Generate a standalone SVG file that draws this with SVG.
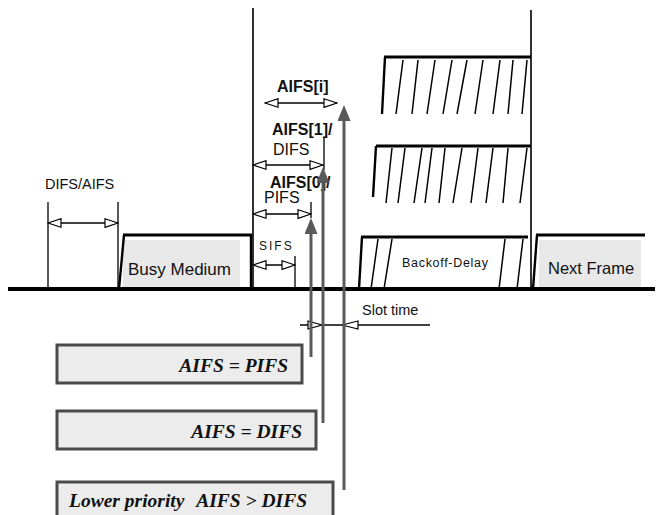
<svg xmlns="http://www.w3.org/2000/svg" width="657" height="515" viewBox="0 0 657 515">
<style>
.sans{font-family:"Liberation Sans",Arial,sans-serif;fill:#111}
.lbl{font-size:16px}
.b{font-weight:bold}
.thin{stroke:#000;stroke-width:1.3;fill:none}
.dim{stroke:#000;stroke-width:1.3;fill:none;marker-start:url(#hollow);marker-end:url(#hollow)}
.top{stroke:#000;stroke-width:3.2;fill:none}
.edge{stroke:#000;stroke-width:2.4;fill:none}
.hatch{stroke:#000;stroke-width:1.5;fill:none}
.garrow{stroke:#5a5a5a;stroke-width:3;fill:none;marker-end:url(#gh)}
.box{fill:#ececec;stroke:#4a4a4a;stroke-width:3}
.boxt{font-family:"Liberation Serif","Times New Roman",serif;font-style:italic;font-weight:bold;font-size:19.5px;fill:#111}
</style>
<defs>
<marker id="hollow" markerUnits="userSpaceOnUse" markerWidth="15" markerHeight="11" refX="14" refY="5.5" orient="auto-start-reverse" viewBox="0 0 15 11">
<path d="M1,1.2 L14,5.5 L1,9.8 Z" fill="#fff" stroke="#000" stroke-width="1.2"/>
</marker>
<marker id="gh" markerUnits="userSpaceOnUse" markerWidth="16" markerHeight="13" refX="0" refY="6.5" orient="auto" viewBox="0 0 16 13">
<path d="M0,0 L16,6.5 L0,13 Z" fill="#5a5a5a"/>
</marker>
</defs>
<rect width="657" height="515" fill="#fff"/>

<g id="frame">
<line x1="253" y1="8" x2="253" y2="289" stroke="#333" stroke-width="2"/>
<line x1="531" y1="10" x2="531" y2="289" stroke="#333" stroke-width="2"/>
<line x1="8" y1="289" x2="655" y2="289" stroke="#000" stroke-width="4"/>
</g>

<g id="busy-medium">
<rect x="123" y="240" width="117" height="47" fill="#e8e8e8"/>
<line x1="123" y1="235" x2="252" y2="235" class="top"/>
<path d="M119,289 L124,235" class="edge"/>
<line x1="251" y1="235" x2="251" y2="289" class="edge"/>
<text x="128" y="275" class="sans" font-size="17">Busy Medium</text>
</g>

<g id="backoff-1">
<line x1="384" y1="57" x2="531" y2="57" class="top"/>
<path d="M385,57 L382,114" class="edge"/>
<path d="M403,60 L396,114 M418,60 L412,114 M435,60 L427,114 M452,60 L443,114 M467,60 L457,114 M483,60 L475,114 M500,60 L493,114 M513,60 L508,114 M527,60 L522,114" class="hatch"/>
</g>

<g id="backoff-2">
<line x1="376" y1="146" x2="531" y2="146" class="top"/>
<path d="M376,146 L373,197" class="edge"/>
<path d="M392,148 L386,203 M405,148 L398,203 M422,148 L414,203 M432,148 L425,203 M445,148 L439,203 M462,148 L453,203 M478,148 L471,203 M493,148 L486,203 M508,148 L503,203 M527,148 L520,203" class="hatch"/>
</g>

<g id="backoff-delay">
<line x1="361" y1="237" x2="528" y2="237" class="top"/>
<path d="M362,237 L359,289" class="edge"/>
<path d="M378,239 L371,289 M392,239 L384,289 M505,239 L499,289 M523,239 L517,289" class="hatch"/>
<text x="402" y="267" class="sans" font-size="12.5" letter-spacing="0.7">Backoff-Delay</text>
</g>

<g id="next-frame">
<rect x="539" y="240" width="102" height="47" fill="#e8e8e8"/>
<line x1="536" y1="235" x2="645" y2="235" class="top"/>
<path d="M533,289 L537,235" class="edge"/>
<text x="548" y="274" class="sans" font-size="16.5">Next Frame</text>
</g>

<g id="labels">
<text x="45" y="189" class="sans" font-size="14.5">DIFS/AIFS</text>
<text x="277" y="92" class="sans lbl b">AIFS[i]</text>
<text x="272" y="135" class="sans lbl b">AIFS[1]/</text>
<text x="273" y="155" class="sans lbl">DIFS</text>
<text x="270" y="188" class="sans lbl b">AIFS[0]/</text>
<text x="264" y="203" class="sans lbl">PIFS</text>
<text x="259" y="250" class="sans" font-size="12" letter-spacing="2">SIFS</text>
<text x="362" y="315" class="sans" font-size="14.5">Slot time</text>
</g>

<g id="box-pifs">
<rect x="57" y="345" width="245" height="38" class="box"/>
<text x="288" y="372" text-anchor="end" class="boxt">AIFS = PIFS</text>
</g>
<g id="box-difs">
<rect x="57" y="411" width="259" height="38" class="box"/>
<text x="302" y="438" text-anchor="end" class="boxt">AIFS = DIFS</text>
</g>
<g id="box-lower">
<rect x="57" y="482" width="276" height="38" class="box"/>
<text x="69" y="507" class="boxt">Lower priority</text>
<text x="307" y="507" text-anchor="end" class="boxt">AIFS &gt; DIFS</text>
</g>

<g id="connectors">
<line x1="48" y1="202" x2="48" y2="289" class="thin"/>
<line x1="118" y1="202" x2="118" y2="289" class="thin"/>
<line x1="295" y1="256" x2="295" y2="289" class="thin"/>
<line x1="311" y1="202" x2="311" y2="218" class="thin"/>
<line x1="324" y1="137" x2="324" y2="170" class="thin"/>
<line x1="48" y1="223" x2="118" y2="223" class="dim"/>
<line x1="253" y1="265" x2="295" y2="265" class="dim"/>
<line x1="253" y1="214" x2="311" y2="214" class="dim"/>
<line x1="253" y1="165" x2="323" y2="165" class="dim"/>
<line x1="265" y1="103" x2="337" y2="103" class="dim"/>
<line x1="300" y1="325" x2="430" y2="325" class="thin"/>
<path d="M308,321 L322,325 L308,329 Z" fill="#fff" stroke="#000" stroke-width="1.2"/>
<path d="M358,321 L342,325 L358,329 Z" fill="#fff" stroke="#000" stroke-width="1.2"/>
<line x1="311" y1="357" x2="311" y2="234" class="garrow"/>
<line x1="323" y1="423" x2="323" y2="183" class="garrow"/>
<line x1="344" y1="490" x2="344" y2="121" class="garrow"/>
</g>
</svg>
